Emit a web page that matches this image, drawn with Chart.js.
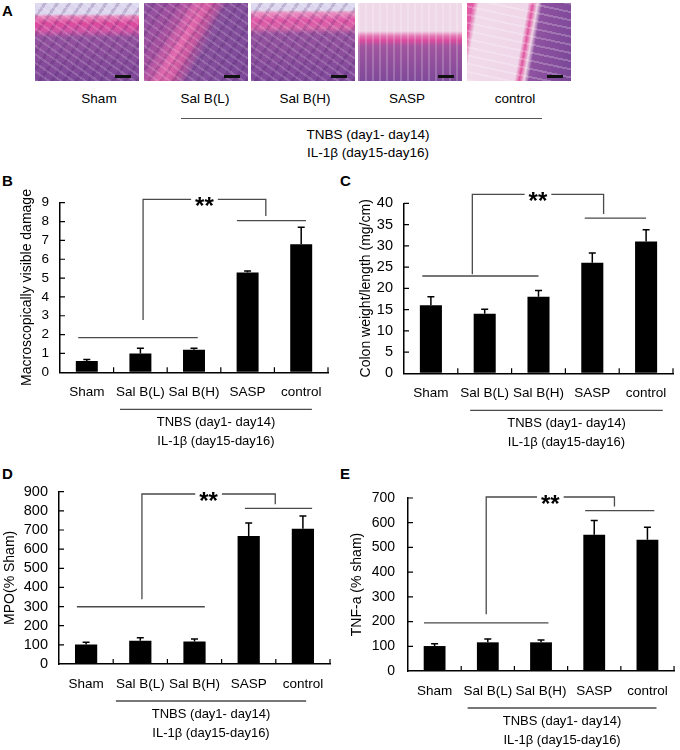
<!DOCTYPE html>
<html lang="en">
<head>
  <meta charset="UTF-8" />
  <title>Sal B colitis figure</title>
  <script src="https://cdn.jsdelivr.net/npm/chart.js"></script>
  <style>
    body { margin: 0; width: 680px; height: 750px; position: relative; background: #fff; font-family: Arial, "Liberation Sans", sans-serif; overflow: hidden; }
    .panel { position: absolute; }
    .letter { position: absolute; font-weight: bold; font-size: 15px; line-height: 15px; }
    .tile { position: absolute; top: 3px; width: 104px; height: 78px; }
    .tile .bar { position: absolute; left: 80px; top: 72px; width: 16px; height: 3px; background: #111; }
    .lbl { position: absolute; font-size: 13.5px; transform: translateX(-50%); white-space: nowrap; line-height: 15px; }
    .rule { position: absolute; height: 0; border-top: 1.5px solid #555; }
  </style>
</head>
<body>

  <div class="letter" style="left:2px;top:3px">A</div>
  <div class="tile" id="t0" style="left:35px"></div>
  <div class="tile" id="t1" style="left:144px"></div>
  <div class="tile" id="t2" style="left:251px"></div>
  <div class="tile" id="t3" style="left:358px"></div>
  <div class="tile" id="t4" style="left:467px"></div>
  <div id="alabels"></div>
  <div class="rule" style="left:181px;top:118px;width:361px"></div>
  <div class="lbl" style="left:368px;top:127px">TNBS (day1- day14)</div>
  <div class="lbl" style="left:368px;top:145px">IL-1β (day15-day16)</div>

  <div class="letter" style="left:2px;top:173px">B</div>
  <div class="letter" style="left:340px;top:173px">C</div>
  <div class="letter" style="left:2px;top:466px">D</div>
  <div class="letter" style="left:340px;top:466px">E</div>

  <div class="panel" style="left:0;top:160px;width:340px;height:300px"><canvas id="chartB"></canvas></div>
  <div class="panel" style="left:340px;top:160px;width:340px;height:300px"><canvas id="chartC"></canvas></div>
  <div class="panel" style="left:0;top:440px;width:340px;height:310px"><canvas id="chartD"></canvas></div>
  <div class="panel" style="left:340px;top:440px;width:340px;height:310px"><canvas id="chartE"></canvas></div>

  <script>
    const groups = ['Sham', 'Sal B(L)', 'Sal B(H)', 'SASP', 'control'];
    const treatLine1 = 'TNBS (day1- day14)';
    const treatLine2 = 'IL-1β (day15-day16)';

    // B: macroscopic damage score
    const damageMean = [0.6, 1.0, 1.2, 5.3, 6.8];
    const damageErr = [0.08, 0.27, 0.08, 0.07, 0.9];
    // C: colon weight / length
    const weightMean = [16, 14, 18, 26, 31];
    const weightErr = [2.0, 1.1, 1.5, 2.3, 2.8];
    // D: MPO
    const mpoMean = [102, 122, 118, 668, 706];
    const mpoErr = [11, 15, 12, 68, 67];
    // E: TNF-a
    const tnfMean = [101, 116, 116, 551, 531];
    const tnfErr = [9, 13, 9, 58, 51];

    // panel A: H&E tiles (only a colour impression of the micrographs)
    const mottle = 'repeating-linear-gradient(35deg, rgba(255,255,255,.16) 0 2px, transparent 2px 7px), repeating-linear-gradient(-55deg, rgba(60,20,90,.18) 0 3px, transparent 3px 10px)';
    const tileStyles = [
      mottle + ', linear-gradient(#dcd6ee 0 14%, #e88cc0 17%, #dc4a9e 26%, #cf56a6 36%, #94529f 44%, #7d4898 100%)',
      mottle + ', linear-gradient(118deg, #8c519f 0%, #a4509f 25%, #e36aae 40%, #c8579f 48%, #86509c 58%, #7b4798 100%)',
      mottle + ', linear-gradient(#dcd6ee 0 9%, #e998c6 12%, #df56a6 22%, #d566a9 32%, #96539f 40%, #7f4999 100%)',
      'repeating-linear-gradient(90deg, rgba(255,255,255,.2) 0 2px, transparent 2px 7px), linear-gradient(#efd8e8 0 36%, #e47ab6 42%, #da4c9e 48%, #a0559f 56%, #7f4999 100%)',
      'repeating-linear-gradient(12deg, rgba(255,255,255,.22) 0 2px, transparent 2px 8px), linear-gradient(100deg, #e15aa6 0 5%, #f1dbea 10%, #efd6e8 52%, #e0549f 56%, #eed4e6 60%, #8e52a0 64%, #7b4798 100%)'
    ];
    tileStyles.forEach((s, i) => {
      const t = document.getElementById('t' + i);
      t.style.background = s;
      t.innerHTML = '<div class="bar"></div>';
    });
    const aCenters = [99, 205, 305, 407, 515];
    document.getElementById('alabels').innerHTML = groups
      .map((g, i) => `<div class="lbl" style="left:${aCenters[i]}px;top:91px">${g}</div>`).join('');

    Chart.defaults.font.family = 'Arial, "Liberation Sans", sans-serif';
    Chart.defaults.color = '#000';

    // error bars, inward ticks, significance bracket, treatment bar below axis
    const figurePlugin = {
      id: 'figureExtras',
      afterDraw(chart, args, o) {
        const ctx = chart.ctx;
        const xs = chart.scales.x, ys = chart.scales.y;
        const area = chart.chartArea;
        const u = xs.getPixelForValue(1) - xs.getPixelForValue(0);
        const px = f => xs.getPixelForValue(0) + f * u;
        const py = v => ys.getPixelForValue(v);
        const meta = chart.getDatasetMeta(0);
        const mean = chart.data.datasets[0].data;

        ctx.save();
        ctx.strokeStyle = '#000';
        ctx.lineWidth = 1.5;
        // error bars (upper whisker only)
        meta.data.forEach((bar, i) => {
          const top = py(mean[i] + o.err[i]);
          ctx.beginPath();
          ctx.moveTo(bar.x, bar.y);
          ctx.lineTo(bar.x, top);
          ctx.moveTo(bar.x - 3.5, top);
          ctx.lineTo(bar.x + 3.5, top);
          ctx.stroke();
        });
        // inward tick marks
        ctx.lineWidth = 1.2;
        ctx.beginPath();
        for (let i = 1; i <= groups.length; i++) {
          const x = px(i - 0.5);
          ctx.moveTo(x, area.bottom);
          ctx.lineTo(x, area.bottom - 5);
        }
        ys.ticks.forEach(t => {
          if (t.value === 0) return;
          const y = py(t.value);
          ctx.moveTo(area.left, y);
          ctx.lineTo(area.left + 5, y);
        });
        ctx.stroke();

        // bracket
        const b = o.bracket;
        ctx.strokeStyle = '#4a4a4a';
        ctx.lineWidth = 1.3;
        ctx.beginPath();
        ctx.moveTo(px(b.leftGroup[0]), py(b.leftY));
        ctx.lineTo(px(b.leftGroup[1]), py(b.leftY));
        ctx.moveTo(px(b.leftX), py(b.leftStart));
        ctx.lineTo(px(b.leftX), py(b.top));
        ctx.lineTo(px(b.rightX), py(b.top));
        ctx.lineTo(px(b.rightX), py(b.rightEnd));
        ctx.moveTo(px(b.rightGroup[0]), py(b.rightY));
        ctx.lineTo(px(b.rightGroup[1]), py(b.rightY));
        ctx.stroke();
        const sx = (px(b.leftX) + px(b.rightX)) / 2;
        ctx.font = 'bold 24px Arial, "Liberation Sans", sans-serif';
        ctx.textAlign = 'center';
        ctx.textBaseline = 'alphabetic';
        const tw = ctx.measureText('**').width;
        ctx.fillStyle = '#fff';
        ctx.fillRect(sx - tw / 2 - 4, py(b.top) - 3, tw + 8, 6);
        ctx.fillStyle = '#000';
        ctx.fillText('**', sx, py(b.top) + 15);

        // treatment bar under the category labels
        ctx.strokeStyle = '#4a4a4a';
        ctx.lineWidth = 1.3;
        ctx.beginPath();
        ctx.moveTo(px(o.treat[0]), area.bottom + 37);
        ctx.lineTo(px(o.treat[1]), area.bottom + 37);
        ctx.stroke();
        const tx = (px(o.treat[0]) + px(o.treat[1])) / 2;
        ctx.font = '13px Arial, "Liberation Sans", sans-serif';
        ctx.textBaseline = 'middle';
        ctx.fillText(treatLine1, tx, area.bottom + 50);
        ctx.fillText(treatLine2, tx, area.bottom + 69);
        ctx.restore();
      }
    };

    function makeChart(id, mean, err, yTitle, yMax, yStep, box, bracket, treat) {
      return new Chart(document.getElementById(id), {
        type: 'bar',
        data: {
          labels: groups,
          datasets: [{ data: mean, backgroundColor: '#000', borderWidth: 0,
                       categoryPercentage: 1, barPercentage: 0.41 }]
        },
        options: {
          responsive: true,
          maintainAspectRatio: false,
          animation: false,
          layout: { padding: { left: box.padL, top: box.padT, right: box.padR, bottom: box.padB } },
          plugins: {
            legend: { display: false },
            tooltip: { enabled: false },
            figureExtras: { err, bracket, treat }
          },
          scales: {
            x: {
              grid: { drawOnChartArea: false, drawTicks: false },
              border: { color: '#000', width: 1.5 },
              ticks: { font: { size: 13.5 }, padding: 12, maxRotation: 0, autoSkip: false },
              afterFit: s => { s.height = 30; }
            },
            y: {
              min: 0, max: yMax,
              grid: { drawOnChartArea: false, drawTicks: false },
              border: { color: '#000', width: 1.5 },
              ticks: { stepSize: yStep, font: { size: box.tickSize }, padding: box.tickPad, autoSkip: false },
              title: { display: true, text: yTitle, font: { size: 14 }, padding: 0 },
              afterFit: s => { s.width = box.yW; }
            }
          }
        },
        plugins: [figurePlugin]
      });
    }

    makeChart('chartB', damageMean, damageErr, 'Macroscopically visible damage', 9, 1,
      { padL: 18.6, yW: 41.4, padT: 42.7, padR: 12, padB: 57.7, tickSize: 13.5, tickPad: 11 },
      { leftGroup: [-0.16, 2.07], leftY: 1.84, leftX: 1.05, leftStart: 2.78, top: 9.18,
        rightX: 3.34, rightEnd: 8.29, rightGroup: [2.8, 4.09], rightY: 8.05 },
      [0.62, 4.2]);

    makeChart('chartC', weightMean, weightErr, 'Colon weight/length (mg/cm)', 40, 5,
      { padL: 17.6, yW: 46.4, padT: 43.3, padR: 7, padB: 56.7, tickSize: 14.5, tickPad: 11 },
      { leftGroup: [-0.16, 2.0], leftY: 22.9, leftX: 0.77, leftStart: 23.3, top: 42.1,
        rightX: 3.21, rightEnd: 37.5, rightGroup: [2.86, 4.0], rightY: 36.5 },
      [0.73, 4.31]);

    makeChart('chartD', mpoMean, mpoErr, 'MPO(% Sham)', 900, 100,
      { padL: 1.6, yW: 57.4, padT: 51.7, padR: 10, padB: 56, tickSize: 14.5, tickPad: 11 },
      { leftGroup: [-0.17, 2.19], leftY: 299, leftX: 1.03, leftStart: 338, top: 888,
        rightX: 3.49, rightEnd: 834, rightGroup: [2.93, 4.17], rightY: 813 },
      [0.55, 4.06]);

    makeChart('chartE', tnfMean, tnfErr, 'TNF-a (% sham)', 700, 100,
      { padL: 8.6, yW: 59.4, padT: 58, padR: 3, padB: 49, tickSize: 14, tickPad: 13 },
      { leftGroup: [-0.2, 2.14], leftY: 195, leftX: 0.97, leftStart: 230, top: 704,
        rightX: 3.38, rightEnd: 666, rightGroup: [2.83, 4.13], rightY: 649 },
      [0.62, 4.17]);
  </script>
</body>
</html>
